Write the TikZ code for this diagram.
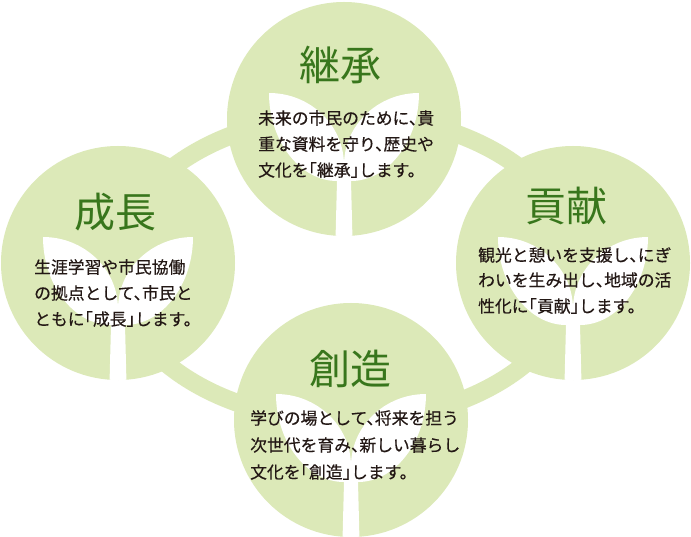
\documentclass[tikz,border=0pt]{standalone}
\usepackage{fontspec}
\newfontfamily\jpfont{Noto Sans CJK JP}
\newfontfamily\jpbody[FakeBold=0.4]{Noto Sans CJK JP}
\definecolor{leafgreen}{RGB}{220,233,184}
\definecolor{titlegreen}{RGB}{56,118,28}
\definecolor{bodytext}{RGB}{35,24,21}
\newcommand\tq{、\kern-0.5em}
\newcommand\ob{\kern-0.5em「}
\newcommand\cb{」\kern-0.5em}
\tikzset{
  ringband/.style={draw=leafgreen, line width=18pt},
  disc/.style={fill=leafgreen},
  sproutshape/.style={fill=white},
  titletext/.style={inner sep=0pt, text=titlegreen, font=\jpfont\fontsize{41}{41}\selectfont, text height=36pt, text depth=5pt},
  bodyline/.style={inner sep=0pt, anchor=west, text=bodytext, font=\jpbody\fontsize{16.8}{16.8}\selectfont, text height=14.8pt, text depth=2pt}
}
\newcommand\drawsprout[2]{%
  \begin{scope}
    \clip (#1,#2) circle [radius=117];
    \fill[sproutshape, shift={(#1,#2)}]
      (-75,-26) .. controls (-75,22) and (-44,62) .. (-7,62)
      -- (-9,140) -- (9,140) -- (7,62)
      .. controls (44,62) and (75,22) .. (75,-26)
      .. controls (34,-26) and (0,6) .. (0,46)
      .. controls (0,6) and (-34,-26) .. (-75,-26) -- cycle;
  \end{scope}}
\begin{document}
\begin{tikzpicture}[x=1pt,y=-1pt]
\useasboundingbox (0,0) rectangle (691,537);
\fill[white] (0,0) rectangle (691,537);
% ring
\draw[ringband] (346,268) ellipse [x radius=230, y radius=153];
% circles
\fill[disc] (344,119) circle [radius=117];
\fill[disc] (118,263) circle [radius=117];
\fill[disc] (573,263) circle [radius=117];
\fill[disc] (351,420) circle [radius=117];
% sprouts
\drawsprout{344}{119}
\drawsprout{118}{263}
\drawsprout{573}{263}
\drawsprout{351}{420}
% titles
\node[titletext] (h1) at (340,65) {継承};
\node[titletext] (h2) at (115,212) {成長};
\node[titletext] (h3) at (566,206) {貢献};
\node[titletext] (h4) at (350,369) {創造};
% body texts
\node[bodyline] (t1a) at (258,118) {未来の市民のために\tq 貴};
\node[bodyline] (t1b) at (258,144) {重な資料を守り\tq 歴史や};
\node[bodyline] (t1c) at (258,170) {文化を\ob 継承\cb します。};
\node[bodyline] (t2a) at (34,267) {生涯学習や市民協働};
\node[bodyline] (t2b) at (34,293) {の拠点として\tq 市民と};
\node[bodyline] (t2c) at (34,319) {ともに\ob 成長\cb します。};
\node[bodyline] (t3a) at (478,255) {観光と憩いを支援し\tq にぎ};
\node[bodyline] (t3b) at (478,280) {わいを生み出し\tq 地域の活};
\node[bodyline] (t3c) at (478,306) {性化に\ob 貢献\cb します。};
\node[bodyline] (t4a) at (250,418) {学びの場として\tq 将来を担う};
\node[bodyline] (t4b) at (250,445) {次世代を育み\tq 新しい暮らし};
\node[bodyline] (t4c) at (250,472) {文化を\ob 創造\cb します。};
\end{tikzpicture}
\end{document}
